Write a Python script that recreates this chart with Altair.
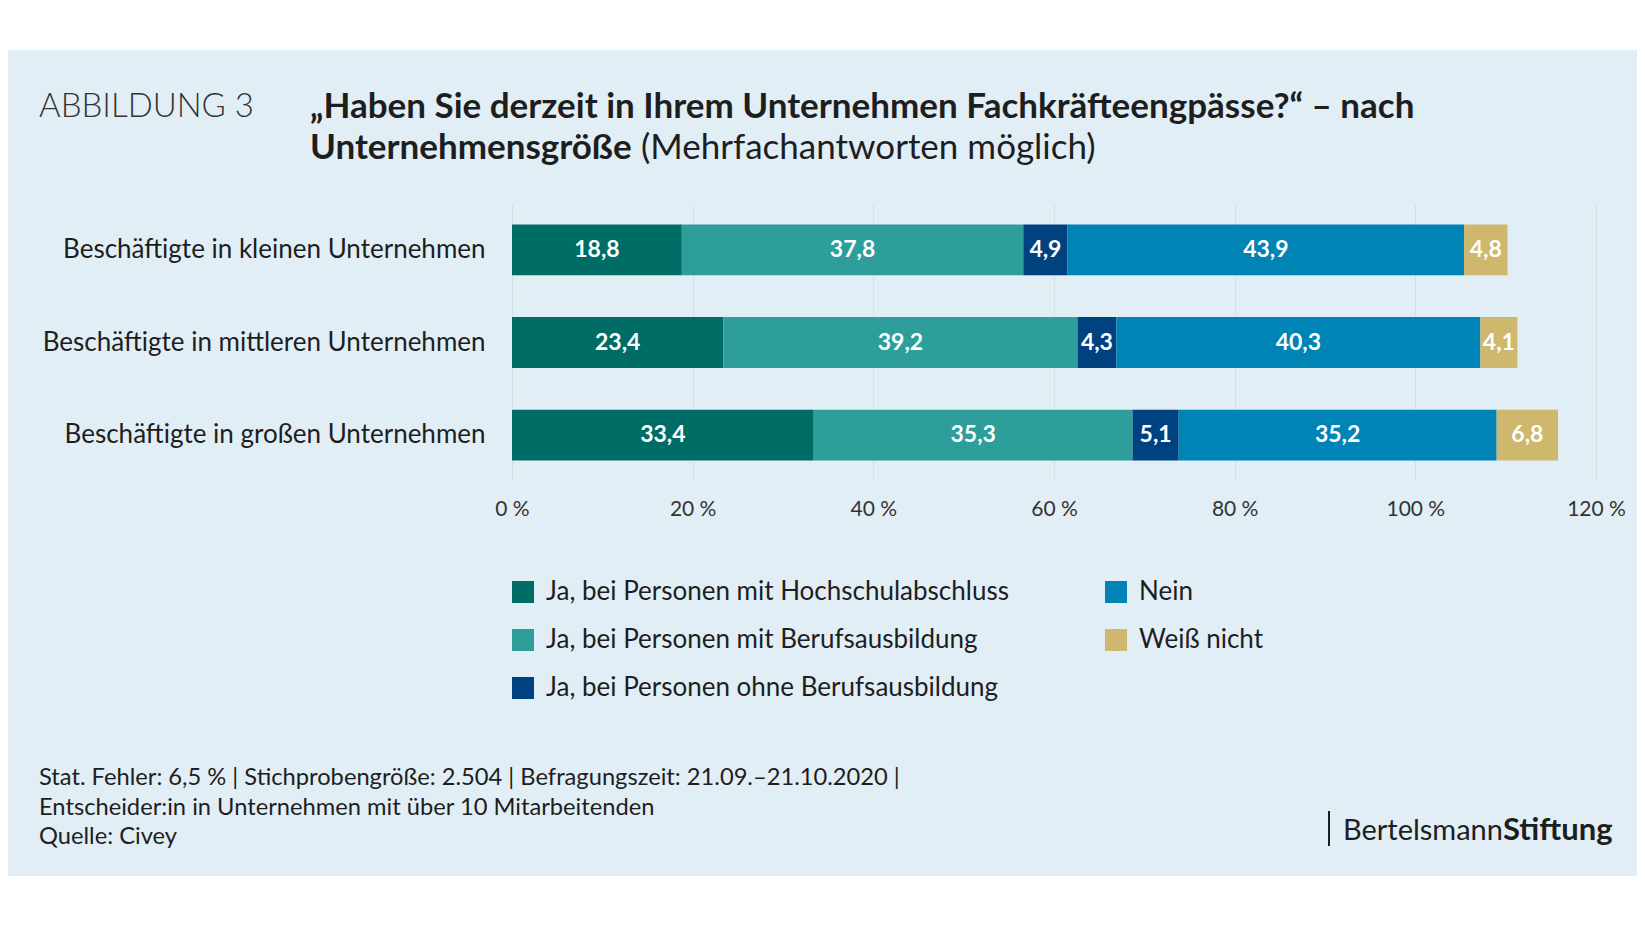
import altair as alt
import pandas as pd

categories = [
    "Beschäftigte in kleinen Unternehmen",
    "Beschäftigte in mittleren Unternehmen",
    "Beschäftigte in großen Unternehmen",
]
series = [
    "Ja, bei Personen mit Hochschulabschluss",
    "Ja, bei Personen mit Berufsausbildung",
    "Ja, bei Personen ohne Berufsausbildung",
    "Nein",
    "Weiß nicht",
]
colors = ["#006c66", "#2e9e9a", "#00427f", "#0083b5", "#cdb86e"]
hochschul = [18.8, 23.4, 33.4]
beruf = [37.8, 39.2, 35.3]
ohne = [4.9, 4.3, 5.1]
nein = [43.9, 40.3, 35.2]
weiss = [4.8, 4.1, 6.8]
tick_values = [0, 20, 40, 60, 80, 100, 120]

rows = []
for s_i, (s, vals) in enumerate(zip(series, [hochschul, beruf, ohne, nein, weiss])):
    for c, v in zip(categories, vals):
        rows.append({"cat": c, "series": s, "order": s_i, "value": v,
                     "label": f"{v:.1f}".replace(".", ",")})
df = pd.DataFrame(rows)

W, H = 1084, 277
PL, PT = 504, 196
FONT = "Lato"
TXT = "#1e1e1e"

base = alt.Chart(df).transform_stack(
    stack="value", groupby=["cat"], as_=["x0", "x1"],
    sort=[alt.SortField("order", order="ascending")]
).transform_calculate(mid="(datum.x0 + datum.x1) / 2")

xscale = alt.Scale(domain=[0, 120], nice=False, zero=True)
yenc = alt.Y("cat:N", sort=categories, title=None,
             scale=alt.Scale(paddingInner=0.45, paddingOuter=0.22),
             axis=alt.Axis(domain=False, ticks=False, grid=False, labelPadding=27,
                           labelFontSize=26, labelColor=TXT, labelFont=FONT, labelLimit=0))

bars = base.mark_bar().encode(
    x=alt.X("x0:Q", scale=xscale, title=None,
            axis=alt.Axis(values=tick_values, labelExpr="datum.value + '\u00a0%'", domain=False,
                          ticks=False, grid=True, gridColor="#cfe3e6", gridWidth=1,
                          labelFlush=False, labelPadding=17, labelFontSize=21,
                          labelColor="#333333", labelFont=FONT)),
    x2="x1:Q",
    y=yenc,
    color=alt.Color("series:N", scale=alt.Scale(domain=series, range=colors),
                    legend=alt.Legend(title=None, orient="none", legendX=-2, legendY=375,
                                      columns=2, symbolType="square",
                                      symbolSize=484, symbolStrokeWidth=0, symbolOpacity=1,
                                      labelFontSize=26, labelColor=TXT, labelFont=FONT,
                                      labelOffset=10, columnPadding=94, rowPadding=22,
                                      labelLimit=0)),
)

labels = base.mark_text(color="white", fontSize=23, fontWeight="bold", font=FONT,
                        baseline="middle", align="center").encode(
    x=alt.X("mid:Q", scale=xscale),
    y=alt.Y("cat:N", sort=categories),
    text="label:N",
)

one = alt.Data(values=[{"a": 1}])


def strip(y1, y2):
    return alt.Chart(one).mark_rect(color="white").encode(
        x=alt.value(-PL - 10), x2=alt.value(W + 60), y=alt.value(y1), y2=alt.value(y2))


def txt(t, x, y, size, weight="normal", align="left", baseline="middle", color=TXT):
    return alt.Chart(one).mark_text(text=t, fontSize=size, fontWeight=weight, font=FONT,
                                    align=align, baseline=baseline, color=color).encode(
        x=alt.value(x), y=alt.value(y))


title_l1 = "\u201eHaben Sie derzeit in Ihrem Unternehmen Fachkr\u00e4fteengp\u00e4sse?\u201c \u2013 nach"
footer = [
    "Stat. Fehler: 6,5 % | Stichprobengr\u00f6\u00dfe: 2.504 | Befragungszeit: 21.09.\u201321.10.2020 |",
    "Entscheider:in in Unternehmen mit \u00fcber 10 Mitarbeitenden",
    "Quelle: Civey",
]

annotations = [
    strip(-PT - 10, -154),
    strip(672, 760),
    txt("ABBILDUNG 3", -473, -97, 33, weight=300, color="#333333"),
    txt(title_l1, -202, -97, 35, weight="bold"),
    txt("Unternehmensgr\u00f6\u00dfe", -202, -56, 35, weight="bold"),
    txt("(Mehrfachantworten m\u00f6glich)", 129, -56, 35),
    txt(footer[0], -473, 574, 23.7),
    txt(footer[1], -473, 604, 23.7),
    txt(footer[2], -473, 633, 23.7),
    alt.Chart(one).mark_rule(color=TXT, strokeWidth=2).encode(
        x=alt.value(817), y=alt.value(607), y2=alt.value(642)),
    txt("Bertelsmann", 991, 636, 29, align="right", baseline="alphabetic"),
    txt("Stiftung", 991, 636, 31, weight="bold", align="left", baseline="alphabetic"),
]

chart = alt.layer(bars, labels, *annotations).properties(
    width=W, height=H,
    autosize=alt.AutoSizeParams(type="none"),
    padding={"left": PL, "top": PT, "right": 41, "bottom": 420},
    background="#e1eef6",
).configure(font=FONT).configure_view(strokeWidth=0, stroke="transparent")

chart.save("out.html", embed_options={"renderer": "svg", "actions": False})
